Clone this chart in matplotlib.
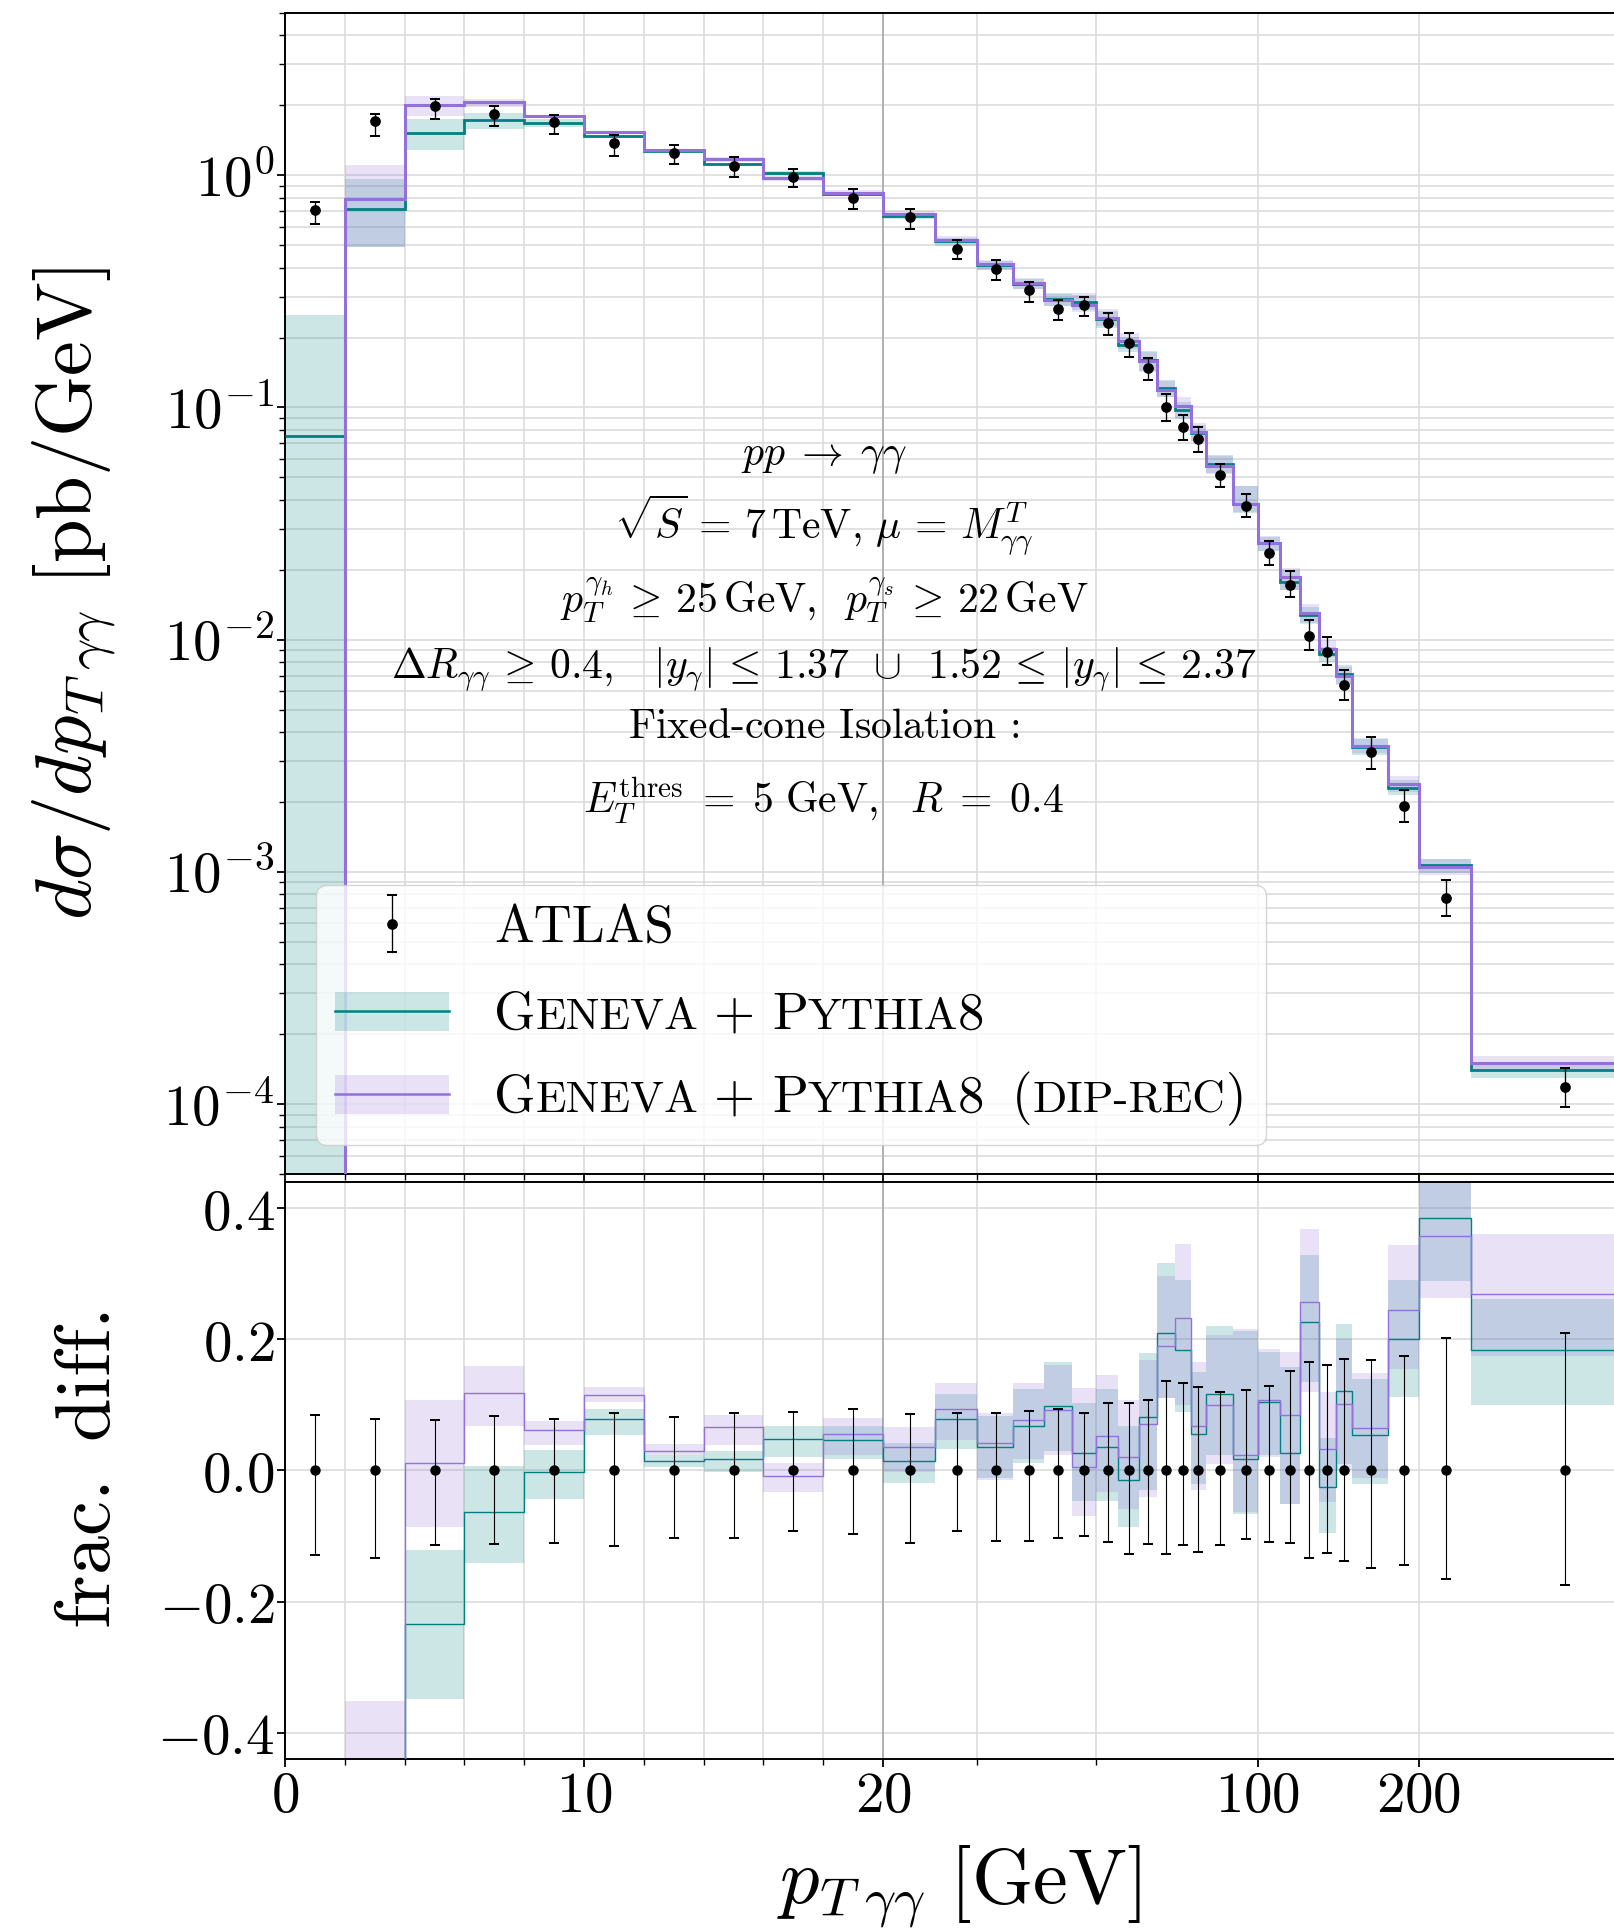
import numpy as np
import matplotlib
matplotlib.use('Agg')
import matplotlib.pyplot as plt
from matplotlib.ticker import FixedLocator, FuncFormatter, LogLocator, NullFormatter
from matplotlib.offsetbox import AnchoredOffsetbox, DrawingArea, HPacker, VPacker, TextArea
from matplotlib.patches import Rectangle
from matplotlib.lines import Line2D

plt.rcParams['mathtext.fontset'] = 'cm'

# pT(gamma gamma) binning of the ATLAS 7 TeV measurement, GeV
bin_edges = [0, 2, 4, 6, 8, 10, 12, 14, 16, 18, 20, 25, 30, 35, 40, 45, 50, 55, 60,
             65, 70, 75, 80, 90, 100, 110, 120, 130, 140, 150, 175, 200, 250, 500]

# ATLAS dsigma/dpT [pb/GeV] and relative errors (up / down)
atlas = [0.71, 1.71, 1.98, 1.84, 1.69, 1.37, 1.25, 1.10, 0.98, 0.796,
         0.66, 0.482, 0.396, 0.319, 0.266, 0.276, 0.231, 0.189, 0.148, 0.100,
         0.082, 0.0732, 0.0511, 0.0377, 0.0235, 0.0172, 0.0104, 0.00886, 0.00635, 0.00327,
         0.00192, 0.00077, 0.000118]
atlas_err_up = [0.084, 0.078, 0.077, 0.083, 0.078, 0.088, 0.082, 0.087, 0.089, 0.093,
                0.086, 0.087, 0.087, 0.090, 0.093, 0.087, 0.103, 0.103, 0.108, 0.137,
                0.133, 0.127, 0.120, 0.122, 0.129, 0.151, 0.165, 0.160, 0.170, 0.169,
                0.174, 0.202, 0.210]
atlas_err_dn = [0.129, 0.133, 0.114, 0.113, 0.110, 0.115, 0.103, 0.103, 0.092, 0.097,
                0.111, 0.093, 0.108, 0.108, 0.103, 0.100, 0.109, 0.127, 0.113, 0.127,
                0.114, 0.125, 0.114, 0.104, 0.109, 0.111, 0.133, 0.126, 0.138, 0.149,
                0.145, 0.165, 0.175]

# fractional difference to data, Geneva + Pythia8
geneva = [-0.894, -0.582, -0.235, -0.064, -0.002, 0.078, 0.014, 0.017, 0.048, 0.047,
          0.014, 0.078, 0.035, 0.068, 0.098, 0.027, 0.036, -0.014, 0.082, 0.209,
          0.183, 0.055, 0.116, 0.018, 0.105, 0.027, 0.226, -0.025, 0.121, 0.054,
          0.200, 0.385, 0.183]
geneva_lo = [-0.99999, -0.712, -0.349, -0.141, -0.044, 0.054, 0.005, -0.003, 0.020, 0.018,
             -0.019, 0.033, -0.011, 0.011, 0.030, -0.047, -0.047, -0.087, -0.030, 0.110,
             0.089, -0.021, 0.024, -0.067, 0.024, -0.052, 0.135, -0.096, 0.010, -0.021,
             0.112, 0.289, 0.099]
geneva_hi = [-0.648, -0.438, -0.121, 0.007, 0.031, 0.093, 0.024, 0.029, 0.067, 0.068,
             0.042, 0.117, 0.083, 0.124, 0.165, 0.103, 0.124, 0.068, 0.179, 0.316,
             0.290, 0.150, 0.220, 0.212, 0.180, 0.157, 0.328, 0.050, 0.223, 0.140,
             0.290, 0.480, 0.262]

# fractional difference to data, Geneva + Pythia8 (dip-rec)
diprec = [-0.99999, -0.539, 0.012, 0.118, 0.061, 0.115, 0.029, 0.066, -0.008, 0.055,
          0.035, 0.093, 0.042, 0.077, 0.092, 0.005, 0.053, 0.021, 0.070, 0.189,
          0.233, 0.068, 0.100, 0.023, 0.108, 0.084, 0.257, 0.032, 0.102, 0.065,
          0.245, 0.358, 0.269]
diprec_lo = [-0.99999, -0.712, -0.087, 0.067, 0.039, 0.104, 0.024, 0.039, -0.033, 0.024,
             -0.003, 0.047, -0.014, 0.018, 0.023, -0.069, -0.033, -0.059, -0.040, 0.110,
             0.100, -0.030, 0.010, -0.063, 0.020, -0.052, 0.120, -0.048, 0.000, -0.011,
             0.155, 0.263, 0.175]
diprec_hi = [-0.99999, -0.352, 0.107, 0.159, 0.075, 0.127, 0.040, 0.085, 0.012, 0.080,
             0.066, 0.134, 0.088, 0.134, 0.161, 0.125, 0.145, 0.108, 0.168, 0.297,
             0.346, 0.166, 0.206, 0.215, 0.185, 0.181, 0.368, 0.120, 0.200, 0.148,
             0.343, 0.470, 0.360]

TEAL = 'teal'
PURPLE = 'mediumpurple'

edges = np.array(bin_edges, dtype=float)
centers = 0.5 * (edges[:-1] + edges[1:])
data = np.array(atlas)
err_up = np.array(atlas_err_up)
err_dn = np.array(atlas_err_dn)

# x axis: linear up to 20 GeV, logarithmic above
PT_SPLIT = 20.0
LOG_STRETCH = 17.92


def fwd(x):
    x = np.asarray(x, dtype=float)
    with np.errstate(divide='ignore', invalid='ignore'):
        lg = PT_SPLIT + LOG_STRETCH * np.log10(np.maximum(x, 1e-12) / PT_SPLIT)
    return np.where(x <= PT_SPLIT, x, lg)


def inv(y):
    y = np.asarray(y, dtype=float)
    with np.errstate(over='ignore'):
        ex = PT_SPLIT * 10 ** ((y - PT_SPLIT) / LOG_STRETCH)
    return np.where(y <= PT_SPLIT, y, ex)


fig = plt.figure(figsize=(16.14, 19.28), dpi=100)
ax = fig.add_axes([0.1766, 0.3911, 0.8346, 0.6022])
rax = fig.add_axes([0.1766, 0.0877, 0.8346, 0.2993])

TICK_FS = 41
LABEL_FS = 56.5

for a in (ax, rax):
    a.set_xscale('function', functions=(fwd, inv))
    a.set_xlim(0, 500)
    a.xaxis.set_major_locator(FixedLocator([0, 10, 20, 100, 200]))
    a.xaxis.set_minor_locator(FixedLocator([2, 4, 6, 8, 12, 14, 16, 18, 30, 50]))
    a.xaxis.set_major_formatter(FuncFormatter(lambda v, p: f'${v:g}$'))
    a.xaxis.set_minor_formatter(NullFormatter())
    a.tick_params(which='major', length=6, width=1.3, labelsize=TICK_FS)
    a.tick_params(which='minor', length=4, width=1.0)
    a.tick_params(axis='x', pad=1.5)
    a.tick_params(axis='y', pad=1.5)
    a.set_axisbelow(True)
    a.grid(True, which='major', color='#dcdcdc', lw=1.2)
    a.xaxis.grid(True, which='minor', color='#dcdcdc', lw=1.2)
    a.axvline(20, color='#a8a8a8', lw=1.2, zorder=1)
    for s in a.spines.values():
        s.set_linewidth(1.4)

# ---- main panel
ax.set_yscale('log')
ax.set_ylim(5e-5, 5)
ax.yaxis.set_major_locator(LogLocator(base=10, numticks=20))
ax.yaxis.set_minor_locator(LogLocator(base=10, subs=np.arange(2, 10), numticks=20))
ax.yaxis.set_major_formatter(FuncFormatter(lambda v, p: rf'$10^{{{int(round(np.log10(v)))}}}$'))
ax.yaxis.set_minor_formatter(NullFormatter())
ax.yaxis.grid(True, which='minor', color='#dcdcdc', lw=1.2)
ax.tick_params(labelbottom=False)

g_val = data * (1 + np.array(geneva))
g_lo = data * (1 + np.array(geneva_lo))
g_hi = data * (1 + np.array(geneva_hi))
d_val = data * (1 + np.array(diprec))
d_lo = data * (1 + np.array(diprec_lo))
d_hi = data * (1 + np.array(diprec_hi))

ax.stairs(g_hi, edges, baseline=g_lo, fill=True, color=TEAL, alpha=0.2, lw=0, zorder=2)
ax.stairs(d_hi, edges, baseline=d_lo, fill=True, color=PURPLE, alpha=0.2, lw=0, zorder=2)
ax.stairs(g_val, edges, baseline=None, color=TEAL, lw=2.0, zorder=3)
ax.stairs(d_val, edges, baseline=None, color=PURPLE, lw=2.2, zorder=3)
ax.errorbar(centers, data, yerr=[data * err_dn, data * err_up], fmt='o', color='black',
            ms=6.7, elinewidth=0.95, capsize=3.6, capthick=1.45, zorder=4)

ax.set_ylabel(r'$d\sigma/dp_{T\;\gamma\gamma}\ [\mathrm{pb/GeV}]$', fontsize=LABEL_FS)
ax.yaxis.set_label_coords(-0.124, 0.5)

info_lines = [
    (r'$pp \;\rightarrow\; \gamma\gamma$', 0.6107),
    (r'$\sqrt{S} \,=\, 7\,\mathrm{TeV},\, \mu \,=\, M_{\gamma\gamma}^{T}$', 0.5478),
    (r'$p_T^{\gamma_h} \,\geq\, 25\,\mathrm{GeV},\;\; p_T^{\gamma_s} \,\geq\, 22\,\mathrm{GeV}$', 0.484),
    (r'$\Delta R_{\gamma\gamma} \,\geq\, 0.4,\;\;\ |y_\gamma| \,\leq\, 1.37\ \,\cup\,\ 1.52 \,\leq\, '
     r'|y_\gamma| \,\leq\, 2.37$', 0.4272),
    (r'$\text{Fixed-cone Isolation :}$', 0.3755),
    (r'$E_T^{\mathrm{thres}} \;=\; 5\ \mathrm{GeV},\ \ R \;=\; 0.4$', 0.311),
]
for s, yy in info_lines:
    ax.text(0.4, yy, s, transform=ax.transAxes, ha='center', va='baseline', fontsize=30, zorder=5)

# ---- legend with small-caps labels
BIG, SMALL = 38, 32.5


def spacer(w):
    return DrawingArea(w, 1, 0, 0)


def label_box(parts):
    kids = []
    for s, z in parts:
        if s == ' ':
            kids.append(spacer(z))
        else:
            kids.append(TextArea(s, textprops=dict(fontsize=z, fontfamily='cmr10')))
    return HPacker(children=kids, align='baseline', pad=0, sep=0)


def band_handle(color):
    da = DrawingArea(82, 30, 0, 0)
    da.add_artist(Rectangle((0, 4), 82, 28, facecolor=color, alpha=0.2, lw=0))
    da.add_artist(Line2D([0, 82], [18, 18], color=color, lw=1.8))
    return da


def data_handle():
    da = DrawingArea(82, 30, 0, 0)
    da.add_artist(Line2D([41, 41], [-2.5, 38.5], color='black', lw=0.95))
    da.add_artist(Line2D([41, 41], [-2.5, 38.5], ls='none', marker='_', ms=7.2, mew=1.45, color='black'))
    da.add_artist(Line2D([41], [18], ls='none', marker='o', ms=6.7, color='black'))
    return da


gen_parts = [('G', BIG), ('ENEVA', SMALL), (' ', 11.5), ('+', BIG), (' ', 12),
             ('P', BIG), ('YTHIA', SMALL), ('8', BIG)]
row_atlas = HPacker(children=[data_handle(), label_box([('ATLAS', BIG)])], align='center', sep=32, pad=0)
row_gen = HPacker(children=[band_handle(TEAL), label_box(gen_parts)], align='center', sep=32, pad=0)
row_dip = HPacker(children=[band_handle(PURPLE),
                            label_box(gen_parts + [(' ', 20), ('(', BIG), ('DIP-REC', SMALL), (')', BIG)])],
                  align='center', sep=32, pad=0)
rows = VPacker(children=[row_atlas, VPacker(children=[row_gen, row_dip], align='left', sep=23.5, pad=0)],
               align='left', sep=29, pad=0)
leg = AnchoredOffsetbox(loc='lower left', child=rows,
                        pad=1.4, borderpad=0, frameon=True, prop=dict(size=10),
                        bbox_to_anchor=(0.023, 0.025), bbox_transform=ax.transAxes)
leg.patch.set_boxstyle('round,pad=0,rounding_size=0.8')
leg.patch.set_facecolor('white')
leg.patch.set_edgecolor('#cccccc')
leg.patch.set_alpha(0.8)
leg.set_zorder(6)
ax.add_artist(leg)

# ---- ratio panel
rax.set_ylim(-0.44, 0.44)
rax.yaxis.set_major_locator(FixedLocator([-0.4, -0.2, 0.0, 0.2, 0.4]))
rax.yaxis.set_major_formatter(FuncFormatter(lambda v, p: f'${v:.1f}$'))

rax.stairs(geneva_hi, edges, baseline=geneva_lo, fill=True, color=TEAL, alpha=0.2, lw=0, zorder=2)
rax.stairs(diprec_hi, edges, baseline=diprec_lo, fill=True, color=PURPLE, alpha=0.2, lw=0, zorder=2)
rax.stairs(geneva, edges, baseline=None, color=TEAL, lw=1.0, zorder=3)
rax.stairs(diprec, edges, baseline=None, color=PURPLE, lw=1.0, zorder=3)
rax.errorbar(centers, np.zeros_like(centers), yerr=[err_dn, err_up], fmt='o', color='black',
             ms=6.5, elinewidth=0.8, capsize=3.6, capthick=1.45, zorder=4)

rax.set_ylabel(r'$\mathrm{frac.\ diff.}$', fontsize=LABEL_FS)
rax.yaxis.set_label_coords(-0.118, 0.5)
rax.set_xlabel(r'$p_{T\;\gamma\gamma}\ [\mathrm{GeV}]$', fontsize=LABEL_FS)
rax.xaxis.set_label_coords(0.5, -0.147)

fig.savefig('out.png', dpi=100)
